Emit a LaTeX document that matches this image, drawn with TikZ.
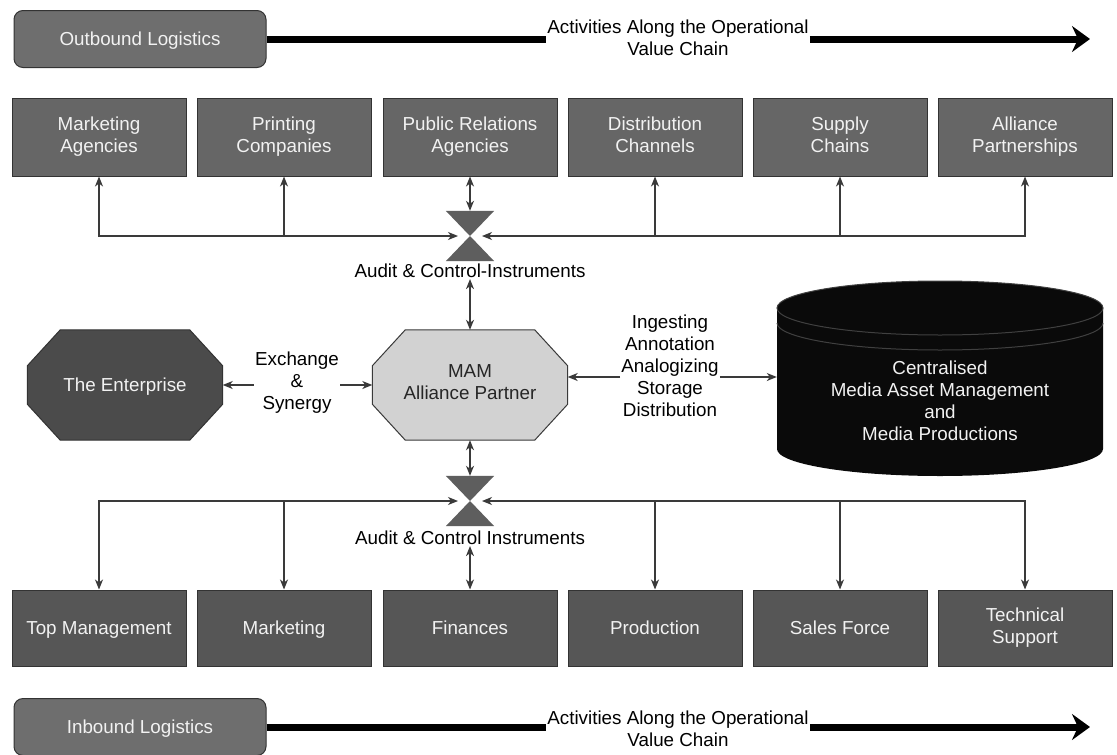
\documentclass[tikz,border=0pt]{standalone}
\usepackage{fontspec}
\setmainfont{Liberation Sans}
\usetikzlibrary{arrows.meta,backgrounds,calc}
\definecolor{logfill}{HTML}{6E6E6E}
\definecolor{topfill}{HTML}{666666}
\definecolor{botfill}{HTML}{565656}
\definecolor{entfill}{HTML}{4B4B4B}
\definecolor{mamfill}{HTML}{D2D2D2}
\definecolor{hgfill}{HTML}{5E5E5E}
\definecolor{cylfill}{HTML}{0A0A0A}
\definecolor{linec}{HTML}{3A3A3A}
\definecolor{boxedge}{HTML}{333333}
\definecolor{txtw}{HTML}{F2F2F2}
\newcommand\mytopstrut{\rule{0pt}{18.5pt}}
\newcommand\mybotstrut{\rule[-5pt]{0pt}{5pt}}
\begin{document}
\begin{tikzpicture}[x=1pt,y=-1pt,
  every node/.style={font=\fontsize{18.8}{22}\selectfont, align=center, inner sep=1pt},
  >={Stealth[length=10pt,width=8pt,inset=3pt]},
  conn/.style={draw=linec, line width=1.2pt},
  struts/.style={execute at begin node=\mytopstrut, execute at end node=\mybotstrut},
  logbox/.style={rectangle, rounded corners=9pt, draw=boxedge, fill=logfill, text=txtw, line width=1pt, minimum width=252pt, minimum height=57pt, struts},
  topbox/.style={rectangle, draw=boxedge, fill=topfill, text=txtw, line width=1pt, minimum width=174pt, minimum height=78pt, struts},
  botbox/.style={rectangle, draw=boxedge, fill=botfill, text=txtw, line width=1pt, minimum width=174pt, minimum height=76pt, struts},
  hgbox/.style={rectangle, minimum width=48pt, minimum height=50pt, inner sep=0pt},
  octbox/.style={rectangle, minimum width=195pt, minimum height=110pt, inner sep=0pt, struts},
  bigline/.style={draw=black, line width=7pt},
  bigarrow/.style={draw=black, line width=7pt, -{Stealth[length=18pt,width=26pt,inset=6pt]}}
]
\begin{scope}[on background layer]
\fill[white] (0,0) rectangle (1117,755);
\end{scope}
\useasboundingbox (0,0) rectangle (1117,755);

% logistics rows
\node[logbox] (out) at (140,39) {Outbound Logistics};
\node (act1) at (678,38) {Activities Along the Operational\\Value Chain};
\coordinate (tip1) at (1090,39);
\draw[bigline] (out.east) -- (out.east -| act1.west);
\draw[bigarrow] (act1.east |- out.east) -- (tip1);

\node[logbox] (inb) at (140,727) {Inbound Logistics};
\node (act2) at (678,729) {Activities Along the Operational\\Value Chain};
\coordinate (tip2) at (1090,727);
\draw[bigline] (inb.east) -- (inb.east -| act2.west);
\draw[bigarrow] (act2.east |- inb.east) -- (tip2);

% top boxes
\node[topbox] (ma) at (99,137) {Marketing\\Agencies};
\node[topbox] (pc) at (284,137) {Printing\\Companies};
\node[topbox] (pr) at (470,137) {Public Relations\\Agencies};
\node[topbox] (dc) at (655,137) {Distribution\\Channels};
\node[topbox] (sc) at (840,137) {Supply\\Chains};
\node[topbox] (ap) at (1025,137) {Alliance\\Partnerships};

% bottom boxes
\node[botbox] (tm) at (99,628) {Top Management};
\node[botbox] (mk) at (284,628) {Marketing};
\node[botbox] (fin) at (470,628) {Finances};
\node[botbox] (pro) at (655,628) {Production};
\node[botbox] (sf) at (840,628) {Sales Force};
\node[botbox] (ts) at (1025,628) {Technical\\Support};

% hourglasses
\node[hgbox] (hg1) at (470,236) {};
\fill[hgfill] (hg1.north west) -- (hg1.north east) -- (hg1.south west) -- (hg1.south east) -- cycle;
\node[hgbox] (hg2) at (470,501) {};
\fill[hgfill] (hg2.north west) -- (hg2.north east) -- (hg2.south west) -- (hg2.south east) -- cycle;

\node (au1) at (470,271) {Audit \& Control-Instruments};
\node (au2) at (470,538) {Audit \& Control Instruments};

% octagons
\node[octbox, text=txtw] (ent) at (125,385) {The Enterprise};
\node[octbox, text=black!85] (mam) at (470,385) {MAM\\Alliance Partner};
\begin{scope}[on background layer]
\foreach \o/\f/\d in {ent/entfill/boxedge, mam/mamfill/linec}{
\filldraw[fill=\f, draw=\d, line width=1pt]
  ($(\o.north west)+(33,0)$) -- ($(\o.north east)+(-33,0)$) --
  ($(\o.north east)+(0,36)$) -- ($(\o.south east)+(0,-36)$) --
  ($(\o.south east)+(-33,0)$) -- ($(\o.south west)+(33,0)$) --
  ($(\o.south west)+(0,-36)$) -- ($(\o.north west)+(0,36)$) -- cycle;
}
\end{scope}

% cylinder
\fill[cylfill] (777,308) -- (777,449) arc[start angle=180, end angle=0, x radius=163, y radius=27]
  -- (1103,308) arc[start angle=360, end angle=180, x radius=163, y radius=27] -- cycle;
\draw[draw=black!75, line width=1pt] (940,308) ellipse[x radius=163, y radius=27];
\draw[draw=black!75, line width=1pt] (777,323) arc[start angle=180, end angle=0, x radius=163, y radius=27];
\node[rectangle, minimum width=326pt, minimum height=194pt, inner sep=0pt] (cyl) at (940,379) {};
\node[text=txtw] (cyltext) at (940,401) {Centralised\\Media Asset Management\\and\\Media Productions};

% middle texts
\node (ex) at (297,383) {Exchange\\\&\\Synergy};
\node (ing) at (670,366) {Ingesting\\Annotation\\Analogizing\\Storage\\Distribution};

% connectors middle
\draw[conn,->] (ent.east -| ex.west) -- (ent.east);
\draw[conn,->] (mam.west -| ex.east) -- (mam.west);
\draw[conn,->] ([yshift=-11pt]ing.west) -- ([yshift=-11pt]ing.west -| mam.east);
\draw[conn,->] ([yshift=-11pt]ing.east) -- ([yshift=-11pt]ing.east -| cyl.west);

% vertical double arrows
\draw[conn,<->] (pr.south) -- (hg1.north);
\draw[conn,<->] (au1.south) -- (mam.north);
\draw[conn,<->] (mam.south) -- (hg2.north);
\draw[conn,<->] (au2.south) -- (fin.north);

% top distribution
\draw[conn,<->,shorten >=12pt] (ma.south) |- (hg1.center);
\draw[conn,<->,shorten >=12pt] (ap.south) |- (hg1.center);
\draw[conn,->] (pc.south |- hg1.center) -- (pc.south);
\draw[conn,->] (dc.south |- hg1.center) -- (dc.south);
\draw[conn,->] (sc.south |- hg1.center) -- (sc.south);

% bottom distribution
\draw[conn,<->,shorten >=12pt] (tm.north) |- (hg2.center);
\draw[conn,<->,shorten >=12pt] (ts.north) |- (hg2.center);
\draw[conn,->] (mk.north |- hg2.center) -- (mk.north);
\draw[conn,->] (pro.north |- hg2.center) -- (pro.north);
\draw[conn,->] (sf.north |- hg2.center) -- (sf.north);
\end{tikzpicture}
\end{document}
